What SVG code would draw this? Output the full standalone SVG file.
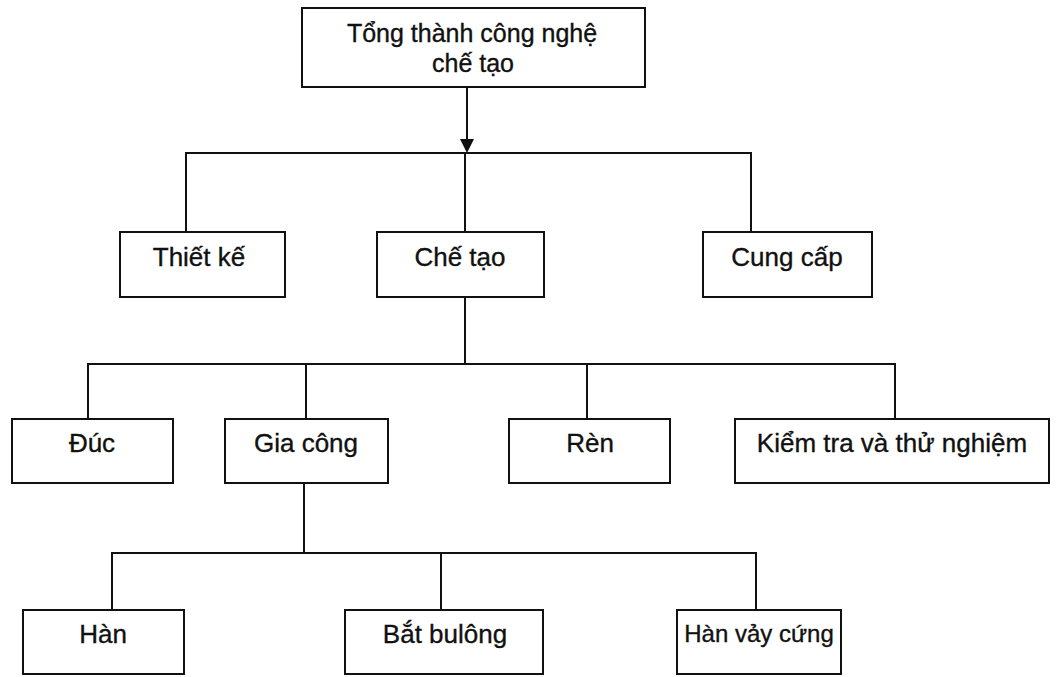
<svg xmlns="http://www.w3.org/2000/svg" width="1057" height="677" viewBox="0 0 1057 677">
<defs>
<style>
.box{fill:#fff;stroke:#111;stroke-width:2}
.lbl{font-family:"Liberation Sans",Arial,sans-serif;font-size:26px;fill:#111;stroke:#111;stroke-width:0.35;text-anchor:middle}
.top{font-size:25px}
.sm{font-size:24px}
.conn{fill:none;stroke:#111;stroke-width:2}
</style>
</defs>
<rect width="1057" height="677" fill="#fff"/>
<g id="connectors">
<path class="conn" d="M467,87 V139"/>
<path d="M460,139 L474,139 L467,153 Z" fill="#111"/>
<path class="conn" d="M186,232 V153 H751 V232 M465,153 V232"/>
<path class="conn" d="M465,297 V364 M88,419 V364 H895 V419 M306,364 V419 M587,364 V419"/>
<path class="conn" d="M304,483 V553 M112,610 V553 H756 V610 M441,553 V610"/>
</g>
<g id="n-root"><rect class="box" x="302" y="8" width="343" height="79"/><text class="lbl top" x="472" y="42">Tổng thành công nghệ</text><text class="lbl top" x="473" y="72">chế tạo</text></g>
<g id="n-thietke"><rect class="box" x="120" y="232" width="165" height="65"/><text class="lbl" x="199" y="266">Thiết kế</text></g>
<g id="n-chetao"><rect class="box" x="377" y="232" width="167" height="65"/><text class="lbl" x="460" y="266">Chế tạo</text></g>
<g id="n-cungcap"><rect class="box" x="703" y="232" width="169" height="65"/><text class="lbl" x="787" y="266">Cung cấp</text></g>
<g id="n-duc"><rect class="box" x="12" y="419" width="161" height="64"/><text class="lbl" x="92" y="452">Đúc</text></g>
<g id="n-giacong"><rect class="box" x="225" y="419" width="163" height="64"/><text class="lbl" x="306" y="452">Gia công</text></g>
<g id="n-ren"><rect class="box" x="509" y="419" width="161" height="64"/><text class="lbl" x="590" y="452">Rèn</text></g>
<g id="n-kiemtra"><rect class="box" x="735" y="419" width="314" height="64"/><text class="lbl" x="892" y="452">Kiểm tra và thử nghiệm</text></g>
<g id="n-han"><rect class="box" x="23" y="610" width="161" height="64"/><text class="lbl" x="103" y="643">Hàn</text></g>
<g id="n-batbulong"><rect class="box" x="345" y="610" width="198" height="64"/><text class="lbl" x="445" y="643">Bắt bulông</text></g>
<g id="n-hanvaycung"><rect class="box" x="677" y="610" width="164" height="64"/><text class="lbl sm" x="759" y="642">Hàn vảy cứng</text></g>
</svg>
